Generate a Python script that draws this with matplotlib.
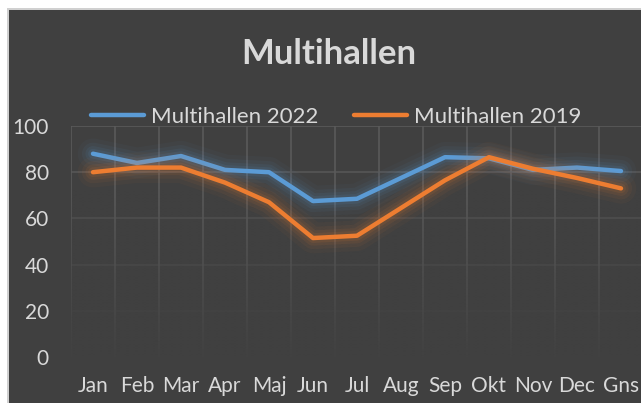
import matplotlib
matplotlib.use('Agg')
import matplotlib.pyplot as plt
import matplotlib.patheffects as pe
from matplotlib.lines import Line2D
from matplotlib.patches import Rectangle
import numpy as np

plt.rcParams['font.family'] = ['Lato', 'DejaVu Sans']

# data
months = ['Jan', 'Feb', 'Mar', 'Apr', 'Maj', 'Jun', 'Jul', 'Aug', 'Sep', 'Okt', 'Nov', 'Dec', 'Gns']
hal_2022 = [88, 84, 87, 81, 80, 67.5, 68.5, 77.5, 86.5, 86, 81, 82, 80.5]
hal_2019 = [80, 82, 82, 75.5, 67, 51.5, 52.5, 64.5, 76.5, 86.5, 81.5, 77.5, 73]
yticks = [0, 20, 40, 60, 80, 100]

W, H = 641, 403
bg = '#404040'
txt = '#d9d9d9'
grid = '#5a5a5a'
blue = '#5b9bd5'
orange = '#ed7d31'

fig = plt.figure(figsize=(W/100, H/100), dpi=100, facecolor='white')
# dark chart area with thin light border
fig.patches.append(Rectangle((7/W, 0), 1, 1-8/H, transform=fig.transFigure,
                             facecolor='#d0d0d0', edgecolor='none', zorder=-10))
fig.patches.append(Rectangle((8.5/W, 0), 1, 1-9.5/H, transform=fig.transFigure,
                             facecolor=bg, edgecolor='none', zorder=-9))

ax = fig.add_axes([71/W, 1-357/H, (643-71)/W, (357-126)/H])
ax.set_facecolor('none')
x = np.arange(len(months))
ax.set_xlim(-0.5, len(months)-0.5)
ax.set_ylim(0, 100)

# grid lines (fade towards bottom)
for v in yticks:
    ax.axhline(v, color=grid, lw=1.2, alpha=0.2 + 0.8*v/100, zorder=1)
for b in np.arange(-0.5, len(months)):
    ax.axvline(b, color=grid, lw=1.2, zorder=1)
# gradient overlay to fade vertical grid lines at the bottom
t = np.linspace(0, 1, 100).reshape(-1, 1)
rgba = np.zeros((100, 1, 4))
rgba[..., :3] = np.array([0x40, 0x40, 0x40])/255
rgba[..., 3] = np.clip(0.95 - t*1.3, 0, 0.95)
ax.imshow(rgba, extent=(-0.5, len(months)-0.5, 0, 100), origin='lower',
          aspect='auto', zorder=1.5, interpolation='bilinear')

for s in ax.spines.values():
    s.set_visible(False)
ax.tick_params(length=0, colors=txt, labelsize=15)
ax.set_xticks(x)
ax.set_xticklabels(months)
ax.set_yticks(yticks)
ax.tick_params(axis='x', pad=14)
ax.tick_params(axis='y', pad=16)
for lab in ax.get_xticklabels() + ax.get_yticklabels():
    lab.set_color(txt)

def glow(color):
    return [pe.Stroke(linewidth=w, foreground=color, alpha=a)
            for w, a in [(22, 0.04), (16, 0.06), (11, 0.08), (7, 0.1)]] + [pe.Normal()]

ax.plot(x, hal_2022, color=blue, lw=3.2, solid_capstyle='round', zorder=3,
        path_effects=glow(blue))
ax.plot(x, hal_2019, color=orange, lw=3.2, solid_capstyle='round', zorder=4,
        path_effects=glow(orange))

# legend
handles = [Line2D([], [], color=blue, lw=3.2, solid_capstyle='round'),
           Line2D([], [], color=orange, lw=3.2, solid_capstyle='round')]
leg = fig.legend(handles, ['Multihallen 2022', 'Multihallen 2019'], ncol=2,
                 loc='center left', bbox_to_anchor=(91/W, 1-117/H), frameon=False,
                 fontsize=16, handlelength=2.4, handletextpad=0.3, columnspacing=1.6,
                 borderaxespad=0, borderpad=0)
for tx in leg.get_texts():
    tx.set_color(txt)

fig.text(329/W, 1-54/H, 'Multihallen', ha='center', va='center', fontsize=25,
         fontweight='bold', color=txt)

fig.savefig('out.png', dpi=100, facecolor=fig.get_facecolor())
